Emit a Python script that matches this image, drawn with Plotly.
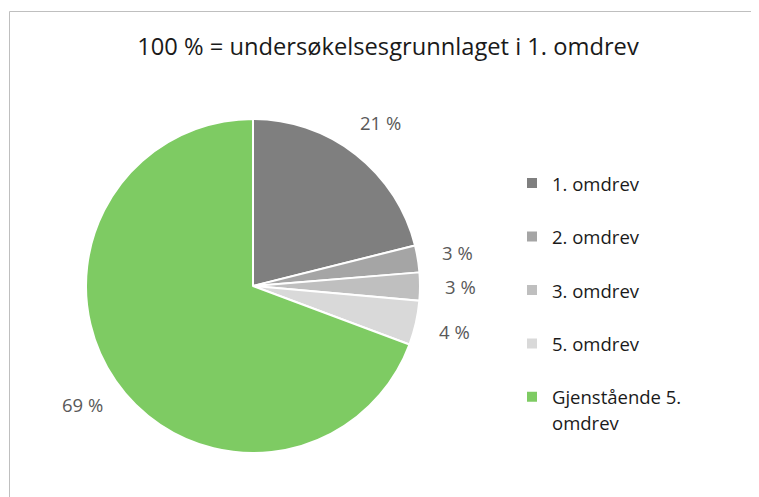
import math
import plotly.graph_objects as go

categories = ["1. omdrev", "2. omdrev", "3. omdrev", "5. omdrev", "Gjenstående 5.<br>omdrev"]
values = [21.1, 2.6, 2.7, 4.3, 69.3]
colors = ["#7f7f7f", "#a5a5a5", "#bfbfbf", "#d9d9d9", "#7ecb63"]
title_text = "100 % = undersøkelsesgrunnlaget i 1. omdrev"

W, H = 759, 497
OFF = 8  # page body margin offset


def px_x(x):
    return (x - OFF) / W


def px_y(y):
    return 1 - (y - OFF) / H


FONT = "Open Sans"
legend_labels = [f"<span style='font-size:18.5px'>{c}</span>" + ("" if "<br>" in c else "<br> ") for c in categories]

# pie geometry (reference pixels)
cx, cy, r = 253, 286, 167
dom_x = [px_x(cx - r), px_x(cx + r)]
dom_y = [px_y(cy + r), px_y(cy - r)]

fig = go.Figure(go.Pie(
    labels=legend_labels,
    values=values,
    textinfo="none",
    sort=False,
    direction="clockwise",
    rotation=0,
    marker=dict(colors=colors, line=dict(color="white", width=2)),
    domain=dict(x=dom_x, y=dom_y),
    showlegend=True,
    hoverinfo="label+percent",
))

# data labels placed radially outside each slice, derived from the values
total = sum(values)
cum = 0
annotations = []
for v in values:
    mid = (cum + v / 2) / total * 2 * math.pi
    cum += v
    rr = r * 1.24
    lx = cx + rr * math.sin(mid)
    ly = cy - rr * math.cos(mid)
    annotations.append(dict(
        x=px_x(lx), y=px_y(ly), xref="paper", yref="paper",
        text=f"{round(v / total * 100)} %", showarrow=False,
        xanchor="center", yanchor="middle",
        font=dict(size=18.5, color="#595959", family=FONT),
    ))

fig.update_layout(
    width=W, height=H,
    margin=dict(l=0, r=0, t=0, b=0),
    paper_bgcolor="white",
    font=dict(family=FONT, color="#404040"),
    title=dict(text=title_text, x=px_x(388), xanchor="center", y=px_y(47), yanchor="middle",
               font=dict(size=23.7, color="#1a1a1a", family=FONT)),
    legend=dict(x=px_x(512), y=px_y(164), xanchor="left", yanchor="top",
                font=dict(size=19.4, color="#1a1a1a", family=FONT), valign="top",
                bgcolor="rgba(0,0,0,0)"),
    annotations=annotations,
    shapes=[dict(type="rect", xref="paper", yref="paper", x0=px_x(9.5), x1=1.05, y0=-0.05, y1=px_y(11.5),
                 line=dict(color="#bfbfbf", width=1), fillcolor="rgba(0,0,0,0)", layer="below")],
)

fig.write_html("out.html")
